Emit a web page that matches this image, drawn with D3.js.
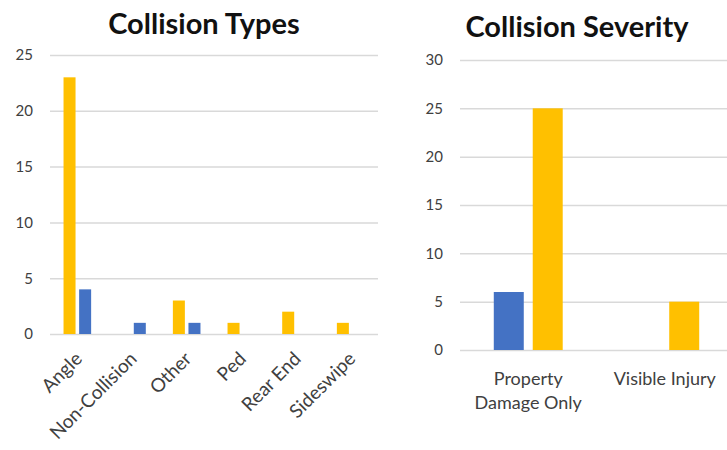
<!DOCTYPE html>
<html>
<head>
<meta charset="utf-8">
<script src="https://cdn.jsdelivr.net/npm/d3@7"></script>
<style>
  html, body { margin: 0; padding: 0; background: #fff; }
  svg { display: block; }
</style>
</head>
<body>
<svg id="chart" width="727" height="450"></svg>
<script>
// Collision types: two series per category
const typeCategories = ["Angle", "Non-Collision", "Other", "Ped", "Rear End", "Sideswipe"];
const typeGold = [23, 0, 3, 1, 2, 1];
const typeBlue = [4, 1, 1, 0, 0, 0];
const typeTicks = [0, 5, 10, 15, 20, 25];

// Collision severity
const severityCategories = [["Property", "Damage Only"], ["Visible Injury"]];
const severityBlue = [6, 0];
const severityGold = [25, 5];
const severityTicks = [0, 5, 10, 15, 20, 25, 30];

const GOLD = "#FFC000";
const BLUE = "#4472C4";
const GRID = "#D9D9D9";
const TEXT = "#404040";
const FONT = "Lato, 'Open Sans', sans-serif";

const svg = d3.select("#chart");

function drawPanel(opts) {
  const g = svg.append("g");
  const labels = opts.categories.map(c => Array.isArray(c) ? c.join(" ") : c);

  const x = d3.scaleBand().domain(labels).range(opts.xRange)
    .paddingInner(0.495).paddingOuter(0.2475);
  const xs = d3.scaleBand().domain(opts.series.map(s => s.key))
    .range([0, x.bandwidth()]).paddingInner(0.23);
  const y = d3.scaleLinear().domain(opts.yDomain).range(opts.yRange);

  // gridlines and value labels
  const yAxis = d3.axisLeft(y).tickValues(opts.ticks)
    .tickSize(-(opts.xRange[1] - opts.xRange[0])).tickPadding(opts.tickPad);
  const ya = g.append("g")
    .attr("transform", `translate(${opts.xRange[0]},0)`)
    .call(yAxis);
  ya.select(".domain").remove();
  ya.selectAll(".tick line").attr("stroke", GRID).attr("stroke-width", 1.5);
  ya.selectAll(".tick text")
    .attr("fill", TEXT).style("font-family", FONT).style("font-size", "15px");

  // bars
  opts.series.forEach(s => {
    g.append("g").selectAll("rect")
      .data(s.values.map((v, i) => ({ cat: labels[i], v })))
      .join("rect")
      .attr("x", d => x(d.cat) + xs(s.key))
      .attr("width", xs.bandwidth())
      .attr("y", d => y(d.v))
      .attr("height", d => y(0) - y(d.v))
      .attr("fill", s.color);
  });

  // title
  g.append("text")
    .attr("x", opts.titlePos[0]).attr("y", opts.titlePos[1])
    .attr("text-anchor", "middle")
    .attr("fill", "#111")
    .style("font-family", FONT).style("font-weight", "bold").style("font-size", "29px")
    .text(opts.title);

  return { g, x, y, labels };
}

// Left panel: collision types
const left = drawPanel({
  categories: typeCategories,
  series: [{ key: "gold", values: typeGold, color: GOLD }, { key: "blue", values: typeBlue, color: BLUE }],
  xRange: [50, 378], yDomain: [0, 25], yRange: [334, 55], ticks: typeTicks, tickPad: 17,
  title: "Collision Types", titlePos: [204, 34]
});
left.g.append("g").selectAll("text")
  .data(left.labels)
  .join("text")
  .attr("transform", d => `translate(${left.x(d) + left.x.bandwidth() / 2 + 6},${360}) rotate(-45)`)
  .attr("text-anchor", "end")
  .attr("fill", TEXT)
  .style("font-family", FONT).style("font-size", "19px")
  .text(d => d);

// Right panel: collision severity
const right = drawPanel({
  categories: severityCategories,
  series: [{ key: "blue", values: severityBlue, color: BLUE }, { key: "gold", values: severityGold, color: GOLD }],
  xRange: [460, 733], yDomain: [0, 30], yRange: [350, 60], ticks: severityTicks, tickPad: 17,
  title: "Collision Severity", titlePos: [577, 37]
});
const sev = right.g.append("g").selectAll("text")
  .data(severityCategories)
  .join("text")
  .attr("x", (d, i) => right.x(right.labels[i]) + right.x.bandwidth() / 2)
  .attr("y", 385)
  .attr("text-anchor", "middle")
  .attr("fill", TEXT)
  .style("font-family", FONT).style("font-size", "18px");
sev.selectAll("tspan")
  .data(d => d)
  .join("tspan")
  .attr("x", function () { return d3.select(this.parentNode).attr("x"); })
  .attr("dy", (d, i) => i === 0 ? 0 : 24)
  .text(d => d);
</script>
</body>
</html>
